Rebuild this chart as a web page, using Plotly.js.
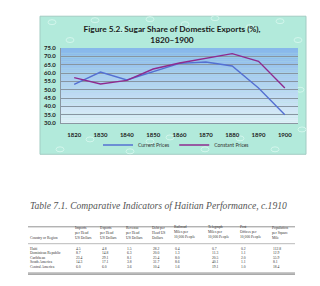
<!DOCTYPE html>
<html>
<head>
<meta charset="utf-8">
<script src="https://cdn.plot.ly/plotly-3.0.1.min.js"></script>
<style>html,body{margin:0;padding:0;background:#fff;}#chart{width:320px;height:286px;}</style>
</head>
<body>
<div id="chart"></div>
<script>
// ---- chart data ----
const years = ['1820','1830','1840','1850','1860','1870','1880','1890','1900'];
const currentPrices = [53.2, 60.6, 55.8, 61.0, 65.8, 66.6, 64.2, 51.0, 35.0];
const constantPrices = [57.2, 53.4, 55.6, 62.4, 66.0, 68.8, 71.6, 67.0, 51.0];
const seriesNames = ['Current Prices', 'Constant Prices'];
const chartTitle = 'Figure 5.2. Sugar Share of Domestic Exports (%),<br>1820\u20131900';

// ---- table data (page content below the chart) ----
const tableTitle = 'Table 7.1. Comparative Indicators of Haitian Performance, c.1910';
const tableHeaders = ['Country or Region','Imports<br>per Head<br>US Dollars','Exports<br>per Head<br>US Dollars','Revenue<br>per Head<br>US Dollars','Debt per<br>Head US<br>Dollars','Railroad<br>Miles per<br>10,000 People','Telegraph<br>Miles per<br>10,000 People','Post<br>Offices per<br>10,000 People','Population<br>per Square<br>Mile'];
const tableRows = ['Haiti','Dominican Republic','Caribbean','South America','Central America'];
const imports = ['4.5','8.7','23.4','14.3','6.0'];
const exportsPH = ['4.8','14.8','29.1','17.1','6.0'];
const revenue = ['1.5','6.3','8.1','3.8','3.6'];
const debt = ['28.2','20.0','25.4','31.7','10.4'];
const railroad = ['0.4','1.3','8.0','8.6','1.6'];
const telegraph = ['0.7','11.3','20.5','40.1','19.1'];
const postOffices = ['0.2','1.1','2.0','1.1','1.0'];
const population = ['112.8','12.9','55.9','8.1','18.4'];

(function () {
// ---- layout geometry ----
const W = 320, H = 286;
const M = {l: 61, r: 22, t: 48, b: 162.5};
const pw = W - M.l - M.r, ph = H - M.t - M.b;
const px = x => (x - M.l) / pw;
const py = y => (H - M.b - y) / ph;

const traces = [
  {x: years, y: currentPrices, name: seriesNames[0], type: 'scatter', mode: 'lines',
   line: {color: '#5470d2', width: 1.4}},
  {x: years, y: constantPrices, name: seriesNames[1], type: 'scatter', mode: 'lines',
   line: {color: '#8e2a8f', width: 1.4}}
];

const shapes = [];
// chart frame
shapes.push({type: 'rect', xref: 'paper', yref: 'paper', layer: 'below',
  x0: px(40), x1: px(306), y0: py(155), y1: py(16),
  fillcolor: '#b2eadb', line: {color: '#a2ccc3', width: 1}});
// subtle droplet texture
const drops = [[52,22],[70,40],[95,20],[120,30],[150,19],[185,24],[215,18],[250,27],[280,21],[298,40],
  [48,70],[50,110],[300,90],[302,130],[60,150],[90,140],[130,152],[170,138],[205,150],[240,139],[275,150],[150,142]];
drops.forEach(([x, y]) => shapes.push({type: 'circle', xref: 'paper', yref: 'paper', layer: 'below',
  x0: px(x - 4), x1: px(x + 4), y0: py(y + 2.5), y1: py(y - 2.5),
  fillcolor: 'rgba(0,0,0,0)', line: {color: '#d3f6ec', width: 1}}));
// plot-area vertical gradient (bands)
const gTop = [0x86, 0xb7, 0xea], gBot = [0xe0, 0xf0, 0xf8];
const N = 40;
for (let k = 0; k < N; k++) {
  const t = (k + 0.5) / N;
  const c = gTop.map((v, i) => Math.round(v + (gBot[i] - v) * t));
  shapes.push({type: 'rect', xref: 'paper', yref: 'paper', layer: 'below',
    x0: 0, x1: 1, y0: Math.max(0, 1 - (k + 1) / N - 0.002), y1: 1 - k / N,
    fillcolor: 'rgb(' + c.join(',') + ')', line: {width: 0}});
}

// table annotations
const colX = [28, 72.5, 97.5, 124, 150, 172, 206, 237.5, 270];
const valX = [null, 74, 100, 125, 151, 173, 210, 238.5, 271];
const rowY = [250, 254.6, 259.2, 263.8, 268.4];
const cols = [null, imports, exportsPH, revenue, debt, railroad, telegraph, postOffices, population];
const tf = {family: 'Liberation Serif, serif', size: 3.7, color: '#333'};
const ann = [];
ann.push({xref: 'paper', yref: 'paper', x: px(28), y: py(207), xanchor: 'left', yanchor: 'middle',
  text: '<i>' + tableTitle + '</i>', showarrow: false,
  font: {family: 'Liberation Serif, serif', size: 9.6, color: '#555'}});
tableHeaders.forEach((h, i) => {
  ann.push({xref: 'paper', yref: 'paper', x: px(colX[i]), y: py(243.5), xanchor: 'left', yanchor: 'bottom',
    text: h, showarrow: false, align: 'left', font: tf});
});
tableRows.forEach((r, j) => {
  ann.push({xref: 'paper', yref: 'paper', x: px(colX[0]), y: py(rowY[j]), xanchor: 'left', yanchor: 'middle',
    text: r, showarrow: false, font: tf});
  for (let i = 1; i < cols.length; i++) {
    ann.push({xref: 'paper', yref: 'paper', x: px(valX[i]), y: py(rowY[j]), xanchor: 'left', yanchor: 'middle',
      text: cols[i][j], showarrow: false, font: tf});
  }
});

const rule = (y, w) => ({type: 'line', xref: 'paper', yref: 'paper', x0: px(28), x1: px(295),
  y0: py(y), y1: py(y), line: {color: '#777', width: w}});
shapes.push(rule(228, 0.8), rule(245, 0.5), rule(274.5, 0.8), rule(275.8, 0.8));

const layout = {
  width: W, height: H,
  margin: {l: M.l, r: M.r, t: M.t, b: M.b, pad: 0},
  paper_bgcolor: '#ffffff',
  plot_bgcolor: 'rgba(0,0,0,0)',
  showlegend: true,
  title: {text: chartTitle, x: px(172), xref: 'paper', xanchor: 'center', y: 1 - 32/H, yanchor: 'middle',
    font: {family: 'Lato, sans-serif', size: 8.3, color: '#1a1a1a', weight: 'bold'}},
  xaxis: {type: 'category', range: [-0.5, 8.5], showgrid: false, zeroline: false,
    showline: true, linecolor: '#8a97a2', linewidth: 1, ticks: '',
    ticklabelstandoff: 6,
    tickfont: {family: 'Lato, sans-serif', size: 6, color: '#222', weight: 'bold'}, fixedrange: true},
  yaxis: {range: [30, 75], dtick: 5, tick0: 30, tickformat: '.1f', showgrid: true,
    gridcolor: '#8795a1', gridwidth: 1, zeroline: false, showline: true, linecolor: '#8a97a2',
    ticks: '', ticklabelstandoff: 3,
    tickfont: {family: 'Lato, sans-serif', size: 6, color: '#222', weight: 'bold'}, fixedrange: true},
  legend: {orientation: 'h', x: px(176), xanchor: 'center', y: py(145.7), yanchor: 'middle',
    bgcolor: 'rgba(0,0,0,0)', font: {family: 'Lato, sans-serif', size: 5, color: '#333'},
    itemwidth: 30, tracegroupgap: 0},
  shapes: shapes,
  annotations: ann
};

Plotly.newPlot('chart', traces, layout, {displayModeBar: false, staticPlot: true});
})();
</script>
</body>
</html>
